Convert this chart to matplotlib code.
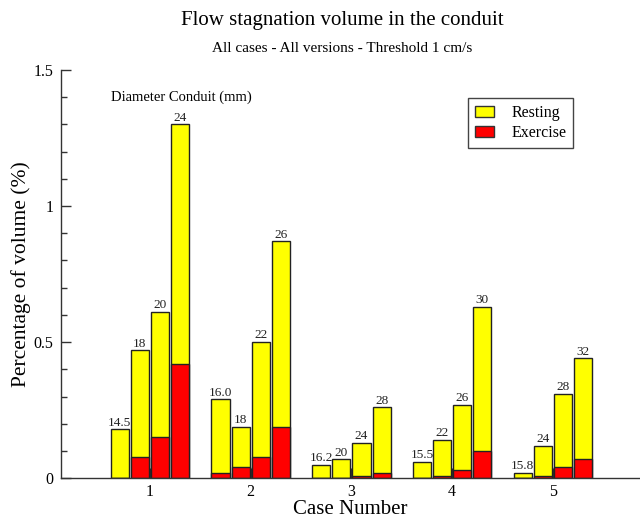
import matplotlib
matplotlib.use("Agg")
import matplotlib.pyplot as plt
import matplotlib.patches as mpatches
import numpy as np

plt.rcParams['font.family'] = ['Liberation Serif', 'DejaVu Serif']

cases = [1, 2, 3, 4, 5]
diameters = [["14.5", "18", "20", "24"],
             ["16.0", "18", "22", "26"],
             ["16.2", "20", "24", "28"],
             ["15.5", "22", "26", "30"],
             ["15.8", "24", "28", "32"]]
resting = [[0.18, 0.47, 0.61, 1.30],
           [0.29, 0.19, 0.50, 0.87],
           [0.05, 0.07, 0.13, 0.26],
           [0.06, 0.14, 0.27, 0.63],
           [0.02, 0.12, 0.31, 0.44]]
exercise = [[0.0, 0.08, 0.15, 0.42],
            [0.02, 0.04, 0.08, 0.19],
            [0.0, 0.0, 0.01, 0.02],
            [0.0, 0.01, 0.03, 0.10],
            [0.0, 0.01, 0.04, 0.07]]

offsets = [-0.3, -0.1, 0.1, 0.3]
width = 0.18

fig = plt.figure(figsize=(6.4, 5.19), dpi=100)
ax = fig.add_axes([61 / 640, 1 - 478.3 / 519, 1 - 61 / 640, (478.3 - 69.8) / 519])

for i, c in enumerate(cases):
    xs = [c + o for o in offsets]
    ax.bar(xs, resting[i], width=width, color='#ffff00', edgecolor='#222222', linewidth=1, zorder=2)
    ax.bar(xs, exercise[i], width=width, color='#ff0000', edgecolor='#222222', linewidth=1, zorder=2)
    for x, h, lab in zip(xs, resting[i], diameters[i]):
        ax.annotate(lab, (x, h), xytext=(0, 0.5), textcoords='offset points',
                    ha='center', va='bottom', fontsize=9.5, color='#222222')

ax.set_xlim(0.117, 5.864)
ax.set_ylim(0, 1.5)
ax.set_xticks(cases)
ax.set_yticks([0, 0.5, 1, 1.5])
ax.set_yticklabels(["0", "0.5", "1", "1.5"])
ax.set_yticks(np.arange(0, 1.5, 0.1), minor=True)
ax.tick_params(axis='both', which='major', direction='in', length=7.5, width=1,
               labelsize=11.5, pad=5.5, color='#333333')
ax.tick_params(axis='x', which='major', pad=4)
ax.tick_params(axis='y', which='minor', direction='in', length=4.5, width=1, color='#333333')
for s in ['top', 'right']:
    ax.spines[s].set_visible(False)
for s in ['left', 'bottom']:
    ax.spines[s].set_color('#333333')
    ax.spines[s].set_linewidth(1)

ax.set_xlabel("Case Number", fontsize=15, labelpad=0)
ax.set_ylabel("Percentage of volume (%)", fontsize=15.5, labelpad=2)

ax.text(0.613, 1.401, "Diameter Conduit (mm)", fontsize=10.5, ha='left', va='center')

fig.text(0.535, 1 - 20 / 519, "Flow stagnation volume in the conduit", fontsize=15,
         ha='center', va='center')
fig.text(0.535, 1 - 48 / 519, "All cases - All versions - Threshold 1 cm/s", fontsize=11,
         ha='center', va='center')

red_patch = mpatches.Patch(facecolor='#ff0000', edgecolor='#333333', label="Exercise")
yellow_patch = mpatches.Patch(facecolor='#ffff00', edgecolor='#333333', label="Resting")
leg = ax.legend(handles=[yellow_patch, red_patch], loc='upper left',
                bbox_to_anchor=(468 / 640, 1 - 98 / 519), bbox_transform=fig.transFigure,
                borderaxespad=0, fancybox=False, framealpha=1, fontsize=11.5,
                handlelength=1.15, handleheight=0.75, handletextpad=1.1,
                borderpad=0.45, labelspacing=0.25)
leg.get_frame().set_edgecolor('#444444')
leg.get_frame().set_linewidth(1)

fig.savefig("out.png", dpi=100)
